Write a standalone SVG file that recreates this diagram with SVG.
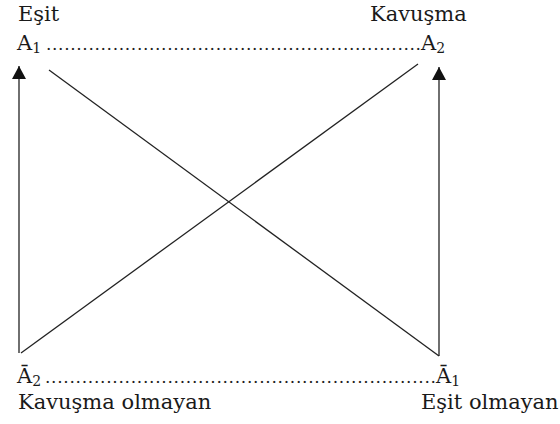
<svg xmlns="http://www.w3.org/2000/svg" width="560" height="424" viewBox="0 0 560 424">
<defs>
<style>
text{font-family:"DejaVu Serif","Liberation Serif",serif;font-size:21px;fill:#1a1a1a}
.sub{font-size:14px}
.dots{font-size:17px}
.ln{stroke:#222;stroke-width:1.3;fill:none}
</style>
<marker id="ah" markerUnits="userSpaceOnUse" markerWidth="14" markerHeight="14" viewBox="0 0 14 14" refX="13" refY="7" orient="auto">
<path d="M0,0 L13,7 L0,14 Z" fill="#111"/>
</marker>
</defs>
<rect width="560" height="424" fill="#fff"/>
<g id="connectors">
<line class="ln" x1="19" y1="353" x2="19" y2="66" marker-end="url(#ah)"/>
<line class="ln" x1="439" y1="356" x2="439" y2="67" marker-end="url(#ah)"/>
<line class="ln" x1="49" y1="70" x2="439" y2="356"/>
<line class="ln" x1="21" y1="353" x2="418" y2="64"/>
<text class="dots" x="46" y="50" textLength="375" lengthAdjust="spacing">..............................................................</text>
<text class="dots" x="45" y="383" textLength="391" lengthAdjust="spacing">................................................................</text>
</g>
<g id="node-a1">
<text x="18" y="21">Eşit</text>
<text x="17" y="50">A<tspan class="sub" dy="3">1</tspan></text>
</g>
<g id="node-a2">
<text x="370" y="21">Kavuşma</text>
<text x="421" y="50">A<tspan class="sub" dy="3">2</tspan></text>
</g>
<g id="node-not-a2">
<text x="17" y="383">Ā<tspan class="sub" dy="3">2</tspan></text>
<text x="18" y="409">Kavuşma olmayan</text>
</g>
<g id="node-not-a1">
<text x="436" y="383">Ā<tspan class="sub" dy="3">1</tspan></text>
<text x="421" y="409">Eşit olmayan</text>
</g>
</svg>
